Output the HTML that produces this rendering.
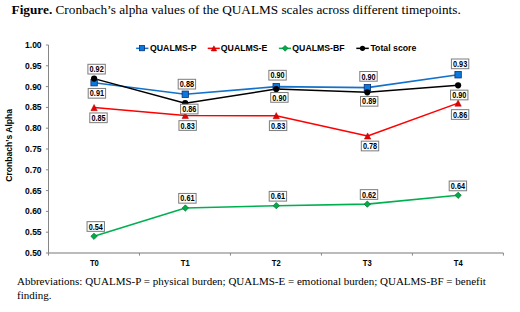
<!DOCTYPE html><html><head><meta charset="utf-8"><style>
html,body{margin:0;padding:0;background:#fff;}
body{width:520px;height:312px;overflow:hidden;position:relative;}
svg{position:absolute;left:0;top:0;}
.s{font-family:"Liberation Sans",sans-serif;font-weight:bold;fill:#000;}
.r{font-family:"Liberation Serif",serif;fill:#000;}
</style></head><body>
<svg width="520" height="312" viewBox="0 0 520 312">
<text class="r" x="11.6" y="13.9" font-size="13.25"><tspan font-weight="bold">Figure.</tspan> Cronbach’s alpha values of the QUALMS scales across different timepoints.</text>
<text class="r" x="17" y="284.9" font-size="11">Abbreviations: QUALMS-P = physical burden; QUALMS-E = emotional burden; QUALMS-BF = benefit</text>
<text class="r" x="17" y="299.2" font-size="11">finding.</text>
<g stroke="#868686" stroke-width="1" fill="none">
<line x1="48.5" y1="45.0" x2="48.5" y2="253.0"/>
<line x1="48.5" y1="253.0" x2="503.4" y2="253.0" stroke="#787878" stroke-width="1.2"/>
<line x1="45.9" y1="45.00" x2="48.5" y2="45.00"/>
<line x1="45.9" y1="65.80" x2="48.5" y2="65.80"/>
<line x1="45.9" y1="86.60" x2="48.5" y2="86.60"/>
<line x1="45.9" y1="107.40" x2="48.5" y2="107.40"/>
<line x1="45.9" y1="128.20" x2="48.5" y2="128.20"/>
<line x1="45.9" y1="149.00" x2="48.5" y2="149.00"/>
<line x1="45.9" y1="169.80" x2="48.5" y2="169.80"/>
<line x1="45.9" y1="190.60" x2="48.5" y2="190.60"/>
<line x1="45.9" y1="211.40" x2="48.5" y2="211.40"/>
<line x1="45.9" y1="232.20" x2="48.5" y2="232.20"/>
<line x1="45.9" y1="253.00" x2="48.5" y2="253.00"/>
<line x1="48.50" y1="253.0" x2="48.50" y2="255.6"/>
<line x1="139.48" y1="253.0" x2="139.48" y2="255.6"/>
<line x1="230.46" y1="253.0" x2="230.46" y2="255.6"/>
<line x1="321.44" y1="253.0" x2="321.44" y2="255.6"/>
<line x1="412.42" y1="253.0" x2="412.42" y2="255.6"/>
<line x1="503.40" y1="253.0" x2="503.40" y2="255.6"/>
</g>
<text class="s" x="41.60" y="48.05" font-size="8.5" text-anchor="end">1.00</text>
<text class="s" x="41.60" y="68.85" font-size="8.5" text-anchor="end">0.95</text>
<text class="s" x="41.60" y="89.65" font-size="8.5" text-anchor="end">0.90</text>
<text class="s" x="41.60" y="110.45" font-size="8.5" text-anchor="end">0.85</text>
<text class="s" x="41.60" y="131.25" font-size="8.5" text-anchor="end">0.80</text>
<text class="s" x="41.60" y="152.05" font-size="8.5" text-anchor="end">0.75</text>
<text class="s" x="41.60" y="172.85" font-size="8.5" text-anchor="end">0.70</text>
<text class="s" x="41.60" y="193.65" font-size="8.5" text-anchor="end">0.65</text>
<text class="s" x="41.60" y="214.45" font-size="8.5" text-anchor="end">0.60</text>
<text class="s" x="41.60" y="235.25" font-size="8.5" text-anchor="end">0.55</text>
<text class="s" x="41.60" y="256.05" font-size="8.5" text-anchor="end">0.50</text>
<text class="s" x="0" y="0" font-size="9.2" text-anchor="middle" transform="translate(94.40,265.90) scale(0.83,1)">T0</text>
<text class="s" x="0" y="0" font-size="9.2" text-anchor="middle" transform="translate(185.30,265.90) scale(0.83,1)">T1</text>
<text class="s" x="0" y="0" font-size="9.2" text-anchor="middle" transform="translate(276.30,265.90) scale(0.83,1)">T2</text>
<text class="s" x="0" y="0" font-size="9.2" text-anchor="middle" transform="translate(367.30,265.90) scale(0.83,1)">T3</text>
<text class="s" x="0" y="0" font-size="9.2" text-anchor="middle" transform="translate(458.30,265.90) scale(0.83,1)">T4</text>
<text class="s" x="0" y="0" font-size="8.6" text-anchor="middle" transform="translate(11.5,145.3) rotate(-90)">Cronbach’s Alpha</text>
<polyline points="94.0,236.3 185.35,208.0 276.3,205.7 367.3,204.15 458.15,195.3" fill="none" stroke="#00b050" stroke-width="1.6" stroke-linejoin="round"/>
<polyline points="94.1,107.6 185.25,115.4 276.25,115.7 367.6,136.0 458.1,103.1" fill="none" stroke="#ff0000" stroke-width="1.5" stroke-linejoin="round"/>
<polyline points="94.1,82.7 185.3,94.25 276.2,86.6 367.4,87.6 458.1,74.75" fill="none" stroke="#1272cb" stroke-width="1.65" stroke-linejoin="round"/>
<polyline points="94.1,78.6 185.2,103.2 276.2,89.0 367.3,92.3 458.1,85.3" fill="none" stroke="#000000" stroke-width="1.5" stroke-linejoin="round"/>
<polygon points="94.00,233.15 97.15,236.30 94.00,239.45 90.85,236.30" fill="#00ac48" stroke="#00702c" stroke-width="0.7"/>
<polygon points="185.35,204.85 188.50,208.00 185.35,211.15 182.20,208.00" fill="#00ac48" stroke="#00702c" stroke-width="0.7"/>
<polygon points="276.30,202.55 279.45,205.70 276.30,208.85 273.15,205.70" fill="#00ac48" stroke="#00702c" stroke-width="0.7"/>
<polygon points="367.30,201.00 370.45,204.15 367.30,207.30 364.15,204.15" fill="#00ac48" stroke="#00702c" stroke-width="0.7"/>
<polygon points="458.15,192.15 461.30,195.30 458.15,198.45 455.00,195.30" fill="#00ac48" stroke="#00702c" stroke-width="0.7"/>
<polygon points="94.10,104.50 97.30,110.70 90.90,110.70" fill="#e80000" stroke="#b00000" stroke-width="0.5" stroke-linejoin="miter"/>
<polygon points="185.25,112.30 188.45,118.50 182.05,118.50" fill="#e80000" stroke="#b00000" stroke-width="0.5" stroke-linejoin="miter"/>
<polygon points="276.25,112.60 279.45,118.80 273.05,118.80" fill="#e80000" stroke="#b00000" stroke-width="0.5" stroke-linejoin="miter"/>
<polygon points="367.60,132.90 370.80,139.10 364.40,139.10" fill="#e80000" stroke="#b00000" stroke-width="0.5" stroke-linejoin="miter"/>
<polygon points="458.10,100.00 461.30,106.20 454.90,106.20" fill="#e80000" stroke="#b00000" stroke-width="0.5" stroke-linejoin="miter"/>
<rect x="90.90" y="79.50" width="6.4" height="6.4" fill="#0a78dc" stroke="#0a2f75" stroke-width="0.8"/>
<rect x="182.10" y="91.05" width="6.4" height="6.4" fill="#0a78dc" stroke="#0a2f75" stroke-width="0.8"/>
<rect x="273.00" y="83.40" width="6.4" height="6.4" fill="#0a78dc" stroke="#0a2f75" stroke-width="0.8"/>
<rect x="364.20" y="84.40" width="6.4" height="6.4" fill="#0a78dc" stroke="#0a2f75" stroke-width="0.8"/>
<rect x="454.90" y="71.55" width="6.4" height="6.4" fill="#0a78dc" stroke="#0a2f75" stroke-width="0.8"/>
<circle cx="94.1" cy="78.6" r="3.1" fill="#000"/>
<circle cx="185.2" cy="103.2" r="3.1" fill="#000"/>
<circle cx="276.2" cy="89.0" r="3.1" fill="#000"/>
<circle cx="367.3" cy="92.3" r="3.1" fill="#000"/>
<circle cx="458.1" cy="85.3" r="3.1" fill="#000"/>
<rect x="87.90" y="64.30" width="17.4" height="9.7" fill="#fff" stroke="#7c7c7c" stroke-width="1"/>
<text class="s" x="0" y="0" font-size="8.2" text-anchor="middle" transform="translate(96.60,72.30) scale(0.89,1)">0.92</text>
<rect x="88.20" y="88.45" width="17.4" height="9.7" fill="#fff" stroke="#7c7c7c" stroke-width="1"/>
<text class="s" x="0" y="0" font-size="8.2" text-anchor="middle" transform="translate(96.90,96.45) scale(0.89,1)">0.91</text>
<rect x="89.80" y="112.95" width="17.4" height="9.7" fill="#fff" stroke="#7c7c7c" stroke-width="1"/>
<text class="s" x="0" y="0" font-size="8.2" text-anchor="middle" transform="translate(98.50,120.95) scale(0.89,1)">0.85</text>
<rect x="87.05" y="221.65" width="17.4" height="9.7" fill="#fff" stroke="#7c7c7c" stroke-width="1"/>
<text class="s" x="0" y="0" font-size="8.2" text-anchor="middle" transform="translate(95.75,229.65) scale(0.89,1)">0.54</text>
<rect x="178.20" y="79.30" width="17.4" height="9.7" fill="#fff" stroke="#7c7c7c" stroke-width="1"/>
<text class="s" x="0" y="0" font-size="8.2" text-anchor="middle" transform="translate(186.90,87.30) scale(0.89,1)">0.88</text>
<rect x="180.60" y="104.20" width="17.4" height="9.7" fill="#fff" stroke="#7c7c7c" stroke-width="1"/>
<text class="s" x="0" y="0" font-size="8.2" text-anchor="middle" transform="translate(189.30,112.20) scale(0.89,1)">0.86</text>
<rect x="178.95" y="120.65" width="17.4" height="9.7" fill="#fff" stroke="#7c7c7c" stroke-width="1"/>
<text class="s" x="0" y="0" font-size="8.2" text-anchor="middle" transform="translate(187.65,128.65) scale(0.89,1)">0.83</text>
<rect x="178.70" y="193.45" width="17.4" height="9.7" fill="#fff" stroke="#7c7c7c" stroke-width="1"/>
<text class="s" x="0" y="0" font-size="8.2" text-anchor="middle" transform="translate(187.40,201.45) scale(0.89,1)">0.61</text>
<rect x="268.85" y="70.35" width="17.4" height="9.7" fill="#fff" stroke="#7c7c7c" stroke-width="1"/>
<text class="s" x="0" y="0" font-size="8.2" text-anchor="middle" transform="translate(277.55,78.35) scale(0.89,1)">0.90</text>
<rect x="270.70" y="92.55" width="17.4" height="9.7" fill="#fff" stroke="#7c7c7c" stroke-width="1"/>
<text class="s" x="0" y="0" font-size="8.2" text-anchor="middle" transform="translate(279.40,100.55) scale(0.89,1)">0.90</text>
<rect x="269.40" y="120.85" width="17.4" height="9.7" fill="#fff" stroke="#7c7c7c" stroke-width="1"/>
<text class="s" x="0" y="0" font-size="8.2" text-anchor="middle" transform="translate(278.10,128.85) scale(0.89,1)">0.83</text>
<rect x="269.20" y="191.40" width="17.4" height="9.7" fill="#fff" stroke="#7c7c7c" stroke-width="1"/>
<text class="s" x="0" y="0" font-size="8.2" text-anchor="middle" transform="translate(277.90,199.40) scale(0.89,1)">0.61</text>
<rect x="359.80" y="71.50" width="17.4" height="9.7" fill="#fff" stroke="#7c7c7c" stroke-width="1"/>
<text class="s" x="0" y="0" font-size="8.2" text-anchor="middle" transform="translate(368.50,79.50) scale(0.89,1)">0.90</text>
<rect x="360.50" y="96.45" width="17.4" height="9.7" fill="#fff" stroke="#7c7c7c" stroke-width="1"/>
<text class="s" x="0" y="0" font-size="8.2" text-anchor="middle" transform="translate(369.20,104.45) scale(0.89,1)">0.89</text>
<rect x="361.30" y="141.15" width="17.4" height="9.7" fill="#fff" stroke="#7c7c7c" stroke-width="1"/>
<text class="s" x="0" y="0" font-size="8.2" text-anchor="middle" transform="translate(370.00,149.15) scale(0.89,1)">0.78</text>
<rect x="360.30" y="189.65" width="17.4" height="9.7" fill="#fff" stroke="#7c7c7c" stroke-width="1"/>
<text class="s" x="0" y="0" font-size="8.2" text-anchor="middle" transform="translate(369.00,197.65) scale(0.89,1)">0.62</text>
<rect x="451.40" y="59.00" width="17.4" height="9.7" fill="#fff" stroke="#7c7c7c" stroke-width="1"/>
<text class="s" x="0" y="0" font-size="8.2" text-anchor="middle" transform="translate(460.10,67.00) scale(0.89,1)">0.93</text>
<rect x="450.55" y="90.15" width="17.4" height="9.7" fill="#fff" stroke="#7c7c7c" stroke-width="1"/>
<text class="s" x="0" y="0" font-size="8.2" text-anchor="middle" transform="translate(459.25,98.15) scale(0.89,1)">0.90</text>
<rect x="451.40" y="109.65" width="17.4" height="9.7" fill="#fff" stroke="#7c7c7c" stroke-width="1"/>
<text class="s" x="0" y="0" font-size="8.2" text-anchor="middle" transform="translate(460.10,117.65) scale(0.89,1)">0.86</text>
<rect x="449.20" y="181.05" width="17.4" height="9.7" fill="#fff" stroke="#7c7c7c" stroke-width="1"/>
<text class="s" x="0" y="0" font-size="8.2" text-anchor="middle" transform="translate(457.90,189.05) scale(0.89,1)">0.64</text>
<line x1="136.1" y1="48.35" x2="148.4" y2="48.35" stroke="#1272cb" stroke-width="1.5"/>
<rect x="139.40" y="45.55" width="5.2" height="5.2" fill="#0a78dc" stroke="#0a2f75" stroke-width="0.8"/>
<text class="s" x="0" y="0" font-size="9.4" text-anchor="start" transform="translate(150.00,51.05) scale(0.93,1)">QUALMS-P</text>
<line x1="207.7" y1="48.35" x2="219.8" y2="48.35" stroke="#ff0000" stroke-width="1.5"/>
<polygon points="213.90,45.75 216.70,50.95 211.10,50.95" fill="#e80000" stroke="#b00000" stroke-width="0.5" stroke-linejoin="miter"/>
<text class="s" x="0" y="0" font-size="9.4" text-anchor="start" transform="translate(220.80,51.05) scale(0.93,1)">QUALMS-E</text>
<line x1="278.9" y1="48.35" x2="291.0" y2="48.35" stroke="#00b050" stroke-width="1.5"/>
<polygon points="285.10,45.45 288.00,48.35 285.10,51.25 282.20,48.35" fill="#00ac48" stroke="#00702c" stroke-width="0.7"/>
<text class="s" x="0" y="0" font-size="9.4" text-anchor="start" transform="translate(292.30,51.05) scale(0.93,1)">QUALMS-BF</text>
<line x1="356.3" y1="48.35" x2="368.8" y2="48.35" stroke="#000000" stroke-width="1.5"/>
<circle cx="362.5" cy="48.35" r="2.6" fill="#000"/>
<text class="s" x="0" y="0" font-size="9.4" text-anchor="start" transform="translate(370.40,51.05) scale(0.93,1)">Total score</text>
</svg></body></html>
